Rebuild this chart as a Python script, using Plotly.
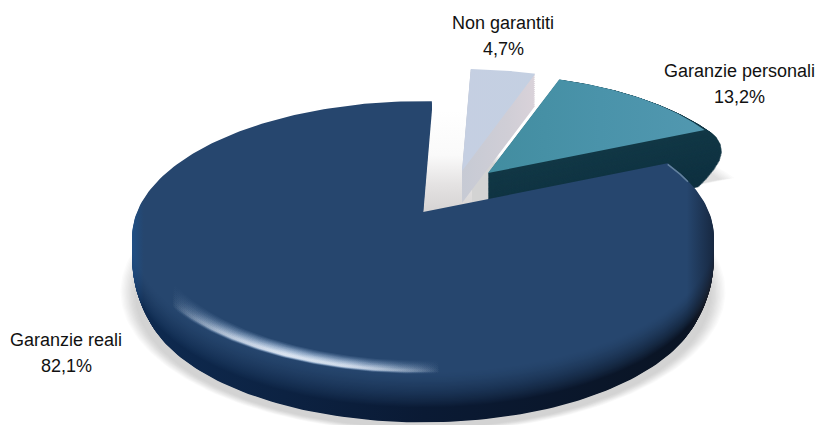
import numpy as np
import plotly.graph_objects as go

# Shares of the three guarantee classes, clockwise from the top of the disc
names = ["Non garantiti", "Garanzie personali", "Garanzie reali"]
shares = [4.7, 13.2, 82.1]

W, H = 816, 425
START_DEG = 2.1          # where the first slice begins, clockwise from 12 o'clock
RX, RY, TILT = 286.0, 131.0, 0.181
CENTRE = (423.0, 212.0)

# Per-slice placement: exploded slices sit further back, so they are drawn smaller
PLACE = {
    "Non garantiti": dict(apex=(462.0, 171.0), scale=0.92),
    "Garanzie personali": dict(apex=(488.0, 173.0), scale=0.885),
    "Garanzie reali": dict(apex=CENTRE, scale=1.0),
}

edges = START_DEG + np.concatenate([[0], np.cumsum(shares)]) * 3.6
SPAN = {n: (edges[i], edges[i + 1]) for i, n in enumerate(names)}


def rim(a, b, apex, scale=1.0, dy=0.0, n=240):
    """Perspective-projected arc of the disc between two clockwise angles."""
    t = np.radians(np.linspace(a, b, n))
    u, v = np.sin(t), -np.cos(t)
    w = 1 - TILT * v
    return apex[0] + scale * RX * u / w, apex[1] + dy + scale * RY * v / w


def wedge(a, b, apex, scale=1.0, dy=0.0):
    x, y = rim(a, b, apex, scale, dy)
    return np.r_[apex[0], x, apex[0]], np.r_[apex[1] + dy, y, apex[1] + dy]


def rgb(c):
    return np.array([int(c[i:i + 2], 16) for i in (1, 3, 5)], float)


def mix(c1, c2, f):
    m = rgb(c1) * (1 - f) + rgb(c2) * f
    return "rgb(%d,%d,%d)" % tuple(m.round())


fig = go.Figure()


def solid(x, y, color):
    fig.add_trace(go.Scatter(x=x, y=y, mode="lines", fill="toself", fillcolor=color,
                             line=dict(width=0), hoverinfo="skip", showlegend=False))


def graded(x, y, stops, x0, x1, kind="horizontal"):
    fig.add_trace(go.Scatter(
        x=x, y=y, mode="lines", fill="toself", line=dict(width=0),
        fillgradient=dict(type=kind, start=x0, stop=x1, colorscale=stops),
        hoverinfo="skip", showlegend=False))


blue_a, blue_b = SPAN["Garanzie reali"]
teal_a, teal_b = SPAN["Garanzie personali"]
pale_a, pale_b = SPAN["Non garantiti"]
teal_p, pale_p = PLACE["Garanzie personali"], PLACE["Non garantiti"]

# Soft ground shadow under the disc and under the outlying slice
for i in range(12):
    s = 1.04 - i * 0.0045
    x, y = rim(0, 360, CENTRE, s, 54 + i * 0.3)
    solid(x, y, "rgba(120,120,120,0.03)")
for i in range(8):
    apex = (teal_p["apex"][0] + 20 - i, teal_p["apex"][1])
    x, y = wedge(teal_a, teal_b, apex, 0.925 - i * 0.004, 50)
    solid(x, y, "rgba(120,120,120,0.028)")

# Garanzie reali wall: stacked layers from the foot up to just under the top face
SURFACE = "#26466e"
upper = ["#1f4f85", SURFACE, SURFACE, SURFACE, "#16263e"]
lower = ["#1a4274", "#0e2a50", "#0a1a34", "#0a1424", "#1b1d26"]
offs = [0, 0.02, 0.5, 0.95, 1]
DEPTH = 56.0
for d in np.linspace(DEPTH, 1, 48):
    f = d / DEPTH
    s = 1 - 0.035 * max(0.0, (f - 0.4) / 0.6) ** 2
    g = min(1.0, f * 1.5) ** 1.5
    stops = [[o, mix(u, l, g)] for o, u, l in zip(offs, upper, lower)]
    x, y = wedge(blue_a, blue_b, CENTRE, s, d)
    graded(x, y, stops, 132, 716)

# Light backdrop visible through the gap left by the two outlying slices
gap_x = [423, 433, 472, 472, 423]
gap_y = [216, 98, 98, 216, 216]
graded(gap_x, gap_y, [[0, "rgb(255,255,255)"], [0.45, "rgb(250,250,250)"], [0.75, "rgb(228,226,226)"],
                      [1, "rgb(214,212,212)"]], 110, 210, "vertical")

# Non garantiti: sweep for the wall, then the top face
for d in np.linspace(32, 1, 16):
    x, y = wedge(pale_a, pale_b, pale_p["apex"], pale_p["scale"], d)
    graded(x, y, [[0, "rgb(198,202,212)"], [0.6, "rgb(208,206,214)"], [1, "rgb(219,211,218)"]], 460, 540)
x, y = wedge(pale_a, pale_b, pale_p["apex"], pale_p["scale"])
graded(x, y, [[0, "rgb(197,207,226)"], [1, "rgb(196,208,226)"]], 460, 540)

# Garanzie personali: rounded dark wall with a bulging edge profile, then the top face
BULGE_D = [0, 4, 10, 18, 26, 34, 42, 50, 56]
BULGE_S = [0.885, 0.912, 0.935, 0.952, 0.957, 0.948, 0.925, 0.893, 0.862]
for d in np.linspace(56, 0.5, 90):
    s = np.interp(d, BULGE_D, BULGE_S)
    x, y = wedge(teal_a, teal_b, teal_p["apex"], s, d)
    solid(x, y, mix("#123846", "#0e3040", d / 56))
x, y = wedge(teal_a, teal_b, teal_p["apex"], teal_p["scale"])
graded(x, y, [[0, "rgb(66,141,160)"], [0.5, "rgb(74,147,170)"], [1, "rgb(82,152,176)"]], 490, 710)

# Garanzie reali: top face over everything behind it
stops = [[o, u] for o, u in zip(offs, upper)]
x, y = wedge(blue_a, blue_b, CENTRE)
graded(x, y, stops, 132, 716)

# Glossy highlight along the front-left rim, feathered by stacking thin crescents
for k in range(10):
    t = k / 9
    inner = 0.93 + t * 0.055
    outer = 1.012 - t * 0.013
    peak = 0.12 + 0.22 * t
    tint = "%d,%d,%d" % (170 + 75 * t, 200 + 48 * t, 235 + 18 * t)
    xa, ya = rim(172, 262, CENTRE, outer)
    xb, yb = rim(262, 172, CENTRE, inner)
    stops = [[0, f"rgba({tint},0)"], [0.22, f"rgba({tint},{peak * 0.6:.3f})"],
             [0.42, f"rgba({tint},{peak:.3f})"], [0.65, f"rgba({tint},{peak * 0.85:.3f})"],
             [1, f"rgba({tint},0)"]]
    graded(np.r_[xa, xb, xa[0]], np.r_[ya, yb, ya[0]], stops, 172, 440)

# Faint light edge where the disc passes in front of the dark wall
x, y = rim(blue_a, blue_a + 9, CENTRE, 1.0, 1, 20)
fig.add_trace(go.Scatter(x=x, y=y, mode="lines", line=dict(color="rgba(120,150,175,0.75)", width=1.5),
                         hoverinfo="skip", showlegend=False))

# Labels: name over share, with the decimal comma
label_at = {"Non garantiti": (503, 23), "Garanzie personali": (739, 71), "Garanzie reali": (66, 340)}
LINE_STEP = 26
for n, v in zip(names, shares):
    lx, ly = label_at[n]
    for line, yy in ((n, ly), (f"{v:.1f}%".replace(".", ","), ly + LINE_STEP)):
        fig.add_annotation(x=lx, y=yy, text=line, showarrow=False,
                           font=dict(family="Liberation Sans", size=18, color="#111111"))

fig.update_xaxes(range=[0, W], visible=False, fixedrange=True)
fig.update_yaxes(range=[H, 0], visible=False, fixedrange=True)
fig.update_layout(width=W, height=H, margin=dict(l=0, r=0, t=0, b=0),
                  paper_bgcolor="white", plot_bgcolor="white", showlegend=False)
fig.write_html("out.html", config=dict(displayModeBar=False))
